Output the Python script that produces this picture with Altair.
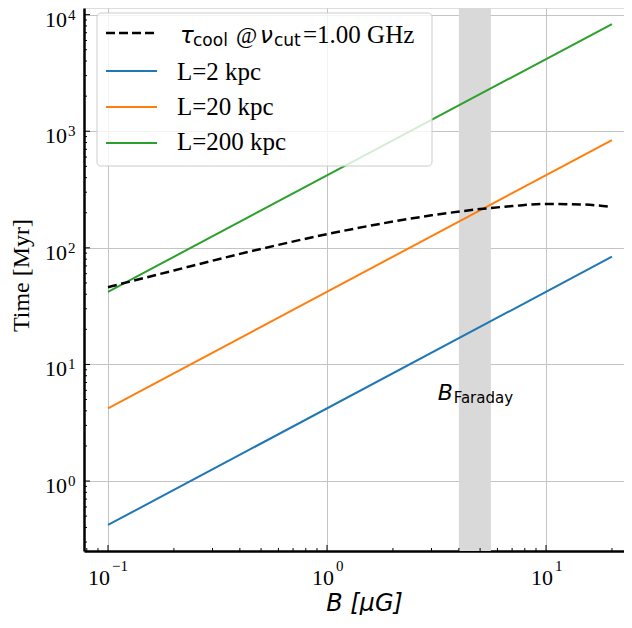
import altair as alt
import pandas as pd

# ---------------- data ----------------
B_line = [0.1, 20.0]
L2_vals = [0.42, 84.0]
L20_vals = [4.2, 840.0]
L200_vals = [42.0, 8300.0]
series_names = ["L=2 kpc", "L=20 kpc", "L=200 kpc"]
series_colors = ["#1f77b4", "#ff7f0e", "#2ca02c"]

B_cool = [0.1, 0.2, 0.5, 1.0, 2.0, 3.0, 5.0, 7.0, 10.0, 15.0, 20.0]
tau_cool = [46, 64, 98, 131, 168, 190, 215, 228, 238, 235, 224]

band_B = [4.0, 5.6]
faraday_xy = [3.2, 5.0]

x_tick_vals = [0.1, 1, 10]
x_tick_exp = ["\u22121", "0", "1"]
y_tick_vals = [1, 10, 100, 1000, 10000]
y_tick_exp = ["0", "1", "2", "3", "4"]

x_minor = [0.08, 0.09] + [k / 10 for k in range(2, 10)] + list(range(2, 10)) + [20]
y_minor = ([k / 10 for k in range(3, 10)] + list(range(2, 10)) + [k * 10 for k in range(2, 10)]
           + [k * 100 for k in range(2, 10)] + [k * 1000 for k in range(2, 10)])

# ---------------- layout ----------------
W, H = 540, 543
XDOM = [10 ** -1.1096, 10 ** 1.356]
YDOM = [10 ** -0.600, 10 ** 4.057]
xs = alt.Scale(type="log", domain=XDOM, nice=False)
ys = alt.Scale(type="log", domain=YDOM, nice=False)
x_label_dx = [2, 7, 7]  # pixel nudges so "10^n" is centred like the reference

rows = []
for name, vals in zip(series_names, [L2_vals, L20_vals, L200_vals]):
    for b, v in zip(B_line, vals):
        rows.append({"B": b, "T": v, "series": name})
lines_df = pd.DataFrame(rows)
cool_df = pd.DataFrame({"B": B_cool, "T": tau_cool})
band_df = pd.DataFrame({"b1": [band_B[0]], "b2": [band_B[1]]})
far_df = pd.DataFrame({"B": [faraday_xy[0]], "T": [faraday_xy[1]]})
one = pd.DataFrame({"k": [0]})

x_axis = alt.Axis(values=x_tick_vals, labels=False,
                  ticks=False, grid=True, gridColor="#c4c4c4", gridWidth=1,
                  domainColor="black", domainWidth=2.5,
                  title="B [\u03bcG]", titleFont="DejaVu Sans", titleFontStyle="italic",
                  titleFontWeight="normal", titleFontSize=24, titleColor="black",
                  titleX=280, titleY=59, titleBaseline="alphabetic", titleAlign="center")
y_axis = alt.Axis(values=y_tick_vals, labels=False,
                  ticks=False, grid=True, gridColor="#c4c4c4", gridWidth=1,
                  domainColor="black", domainWidth=2.5,
                  title="Time [Myr]", titleFont="Liberation Serif", titleFontWeight="normal",
                  titleFontSize=24, titleColor="black", titleAngle=270,
                  titleX=-56, titleY=267, titleBaseline="alphabetic", titleAlign="center")

band = alt.Chart(band_df).mark_rect(color="#d9d9d9").encode(
    x=alt.X("b1:Q", scale=xs, axis=x_axis),
    x2="b2:Q",
    y=alt.value(0), y2=alt.value(H))

lines = alt.Chart(lines_df).mark_line(strokeWidth=2, clip=True).encode(
    x=alt.X("B:Q", scale=xs),
    y=alt.Y("T:Q", scale=ys, axis=y_axis),
    color=alt.Color("series:N", scale=alt.Scale(domain=series_names, range=series_colors), legend=None))

cool = alt.Chart(cool_df).mark_line(color="black", strokeWidth=2.5, strokeDash=[9, 4.5],
                                    interpolate="monotone", clip=True).encode(
    x=alt.X("B:Q", scale=xs), y=alt.Y("T:Q", scale=ys))

# inward ticks
xmaj = alt.Chart(pd.DataFrame({"v": x_tick_vals})).mark_rule(color="black", strokeWidth=1).encode(
    x=alt.X("v:Q", scale=xs), y=alt.value(H), y2=alt.value(H - 6))
xmin = alt.Chart(pd.DataFrame({"v": x_minor})).mark_rule(color="black", strokeWidth=1).encode(
    x=alt.X("v:Q", scale=xs), y=alt.value(H), y2=alt.value(H - 3))
ymaj = alt.Chart(pd.DataFrame({"v": y_tick_vals})).mark_rule(color="black", strokeWidth=1).encode(
    y=alt.Y("v:Q", scale=ys), x=alt.value(0), x2=alt.value(6))
ymin = alt.Chart(pd.DataFrame({"v": y_minor})).mark_rule(color="black", strokeWidth=1).encode(
    y=alt.Y("v:Q", scale=ys), x=alt.value(0), x2=alt.value(3))

# tick labels: "10" with a raised exponent
ylab_df = pd.DataFrame({"v": y_tick_vals, "e": y_tick_exp})
ylab10 = alt.Chart(ylab_df).mark_text(text="10", font="Liberation Serif", fontSize=22, color="black",
                                      align="right", baseline="alphabetic", dy=12).encode(
    y=alt.Y("v:Q", scale=ys), x=alt.value(-17))
ylabE = alt.Chart(ylab_df).mark_text(font="Liberation Serif", fontSize=15, color="black",
                                     align="left", baseline="alphabetic", dy=5).encode(
    y=alt.Y("v:Q", scale=ys), x=alt.value(-16), text="e:N")
xlab_layers = []
for v, e, d in zip(x_tick_vals, x_tick_exp, x_label_dx):
    dfv = pd.DataFrame({"v": [v], "e": [e]})
    xlab_layers.append(alt.Chart(dfv).mark_text(text="10", font="Liberation Serif", fontSize=22,
                                                color="black", align="right", baseline="alphabetic",
                                                dx=d).encode(
        x=alt.X("v:Q", scale=xs), y=alt.value(H + 34)))
    xlab_layers.append(alt.Chart(dfv).mark_text(font="Liberation Serif", fontSize=15,
                                                color="black", align="left", baseline="alphabetic",
                                                dx=d + 2).encode(
        x=alt.X("v:Q", scale=xs), y=alt.value(H + 20), text="e:N"))

# B_Faraday label
fB = alt.Chart(far_df).mark_text(text="B", font="DejaVu Sans", fontStyle="italic", fontSize=22,
                                 align="left", baseline="alphabetic", color="black").encode(
    x=alt.X("B:Q", scale=xs), y=alt.Y("T:Q", scale=ys))
fSub = alt.Chart(far_df).mark_text(text="Faraday", font="DejaVu Sans", fontSize=15, dx=16, dy=3,
                                   align="left", baseline="alphabetic", color="black").encode(
    x=alt.X("B:Q", scale=xs), y=alt.Y("T:Q", scale=ys))

# manual legend
leg_layers = [
    alt.Chart(one).mark_rect(fill="white", fillOpacity=0.8, stroke="#cccccc", strokeWidth=1,
                             cornerRadius=4).encode(
        x=alt.value(13), x2=alt.value(348), y=alt.value(5), y2=alt.value(158)),
    alt.Chart(one).mark_rule(color="black", strokeWidth=2.5, strokeDash=[9, 4]).encode(
        x=alt.value(22), x2=alt.value(73), y=alt.value(25)),
]
row_y = [63, 99, 135]
row_base = [72, 107, 142]
for name, col, ly, by in zip(series_names, series_colors, row_y, row_base):
    leg_layers.append(alt.Chart(one).mark_rule(color=col, strokeWidth=2).encode(
        x=alt.value(22), x2=alt.value(73), y=alt.value(ly)))
    leg_layers.append(alt.Chart(one).mark_text(text=name, font="Liberation Serif", fontSize=25,
                                               align="left", baseline="alphabetic", color="black").encode(
        x=alt.value(93), y=alt.value(by)))

title_parts = [
    ("\u03c4", "DejaVu Sans", "italic", 23, 96, 35),
    ("cool", "DejaVu Sans", "normal", 17, 109, 38),
    ("@", "Liberation Serif", "normal", 23, 152, 35),
    ("\u03bd", "DejaVu Sans", "italic", 23, 176, 35),
    ("cut", "DejaVu Sans", "normal", 17, 190, 38),
    ("=1.00 GHz", "Liberation Serif", "normal", 25, 219, 35),
]
for txt, fnt, sty, fs, px, py in title_parts:
    leg_layers.append(alt.Chart(one).mark_text(text=txt, font=fnt, fontStyle=sty, fontSize=fs,
                                               align="left", baseline="alphabetic", color="black").encode(
        x=alt.value(px), y=alt.value(py)))

chart = alt.layer(band, lines, cool, *leg_layers, fB, fSub, xmaj, xmin, ymaj, ymin,
                  ylab10, ylabE, *xlab_layers).properties(
    width=W, height=H,
    autosize=alt.AutoSizeParams(type="none"),
    padding={"left": 76, "top": 0, "right": 0, "bottom": 64},
).configure_view(stroke=None).configure(background="white")

chart.save("out.html", embed_options={"renderer": "svg", "actions": False})
